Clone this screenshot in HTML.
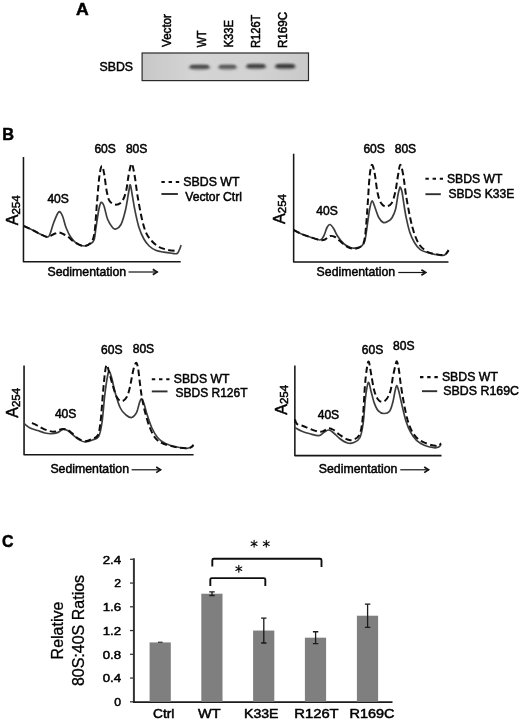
<!DOCTYPE html>
<html><head><meta charset="utf-8"><title>Figure</title>
<style>
html,body{margin:0;padding:0;background:#fff;}
body{width:520px;height:721px;overflow:hidden;font-family:"Liberation Sans",sans-serif;}
svg{display:block;font-family:"Liberation Sans",sans-serif;}
text{stroke:#000;stroke-width:0.5px;}
</style></head><body>
<svg width="520" height="721" viewBox="0 0 520 721">
<defs>
<linearGradient id="blotg" x1="0" y1="0" x2="1" y2="0">
<stop offset="0" stop-color="#c7c7c7"/><stop offset="0.3" stop-color="#d4d4d4"/><stop offset="0.7" stop-color="#d2d2d2"/><stop offset="1" stop-color="#c9c9c9"/>
</linearGradient>
<filter id="soft" x="0" y="0" width="520" height="721" filterUnits="userSpaceOnUse"><feGaussianBlur stdDeviation="0.45"/></filter>
<filter id="bblur2" x="-30%" y="-150%" width="160%" height="400%"><feGaussianBlur stdDeviation="1.3 0.85"/></filter>
<filter id="bblur" x="-30%" y="-80%" width="160%" height="260%"><feGaussianBlur stdDeviation="1.1 0.8"/></filter>
</defs>
<rect width="520" height="721" fill="#fff"/>
<g filter="url(#soft)" class="all">
<text x="76" y="14.9" font-size="17.3" font-weight="bold" fill="#000" textLength="12.7" lengthAdjust="spacingAndGlyphs">A</text>
<text x="99.5" y="71.4" font-size="12.5" fill="#000" textLength="33.5" lengthAdjust="spacingAndGlyphs">SBDS</text>
<rect x="142.1" y="53" width="166.4" height="27.6" fill="url(#blotg)" stroke="#2a2a2a" stroke-width="1.2"/>
<ellipse cx="199.5" cy="67.4" rx="11.5" ry="3.1" fill="#444" opacity="0.34" filter="url(#bblur)"/>
<rect x="190.0" y="65.0" width="19.0" height="3.6" rx="1.8" fill="#262626" opacity="0.74" filter="url(#bblur2)"/>
<ellipse cx="227.5" cy="67.4" rx="10.5" ry="3.1" fill="#444" opacity="0.29" filter="url(#bblur)"/>
<rect x="219.0" y="65.0" width="17.0" height="3.6" rx="1.8" fill="#262626" opacity="0.64" filter="url(#bblur2)"/>
<ellipse cx="256.0" cy="66.7" rx="11.2" ry="3.1" fill="#444" opacity="0.36" filter="url(#bblur)"/>
<rect x="246.8" y="64.3" width="18.5" height="3.6" rx="1.8" fill="#262626" opacity="0.78" filter="url(#bblur2)"/>
<ellipse cx="285.2" cy="66.7" rx="11.5" ry="3.1" fill="#444" opacity="0.38" filter="url(#bblur)"/>
<rect x="275.7" y="64.3" width="19.0" height="3.6" rx="1.8" fill="#262626" opacity="0.83" filter="url(#bblur2)"/>
<text transform="translate(171.4,46.9) rotate(-90)" font-size="12" fill="#000" textLength="32.8" lengthAdjust="spacingAndGlyphs">Vector</text>
<text transform="translate(205.6,47.2) rotate(-90)" font-size="12" fill="#000" textLength="16.8" lengthAdjust="spacingAndGlyphs">WT</text>
<text transform="translate(232.9,47.6) rotate(-90)" font-size="12" fill="#000" textLength="27.6" lengthAdjust="spacingAndGlyphs">K33E</text>
<text transform="translate(260.3,48.0) rotate(-90)" font-size="12" fill="#000" textLength="33.4" lengthAdjust="spacingAndGlyphs">R126T</text>
<text transform="translate(287.2,48.0) rotate(-90)" font-size="12" fill="#000" textLength="36.0" lengthAdjust="spacingAndGlyphs">R169C</text>
<text x="2.2" y="140.4" font-size="17.3" font-weight="bold" fill="#000" textLength="11.8" lengthAdjust="spacingAndGlyphs">B</text>
<path d="M23.45,157.10 L23.45,261.80 L180.70,261.80" fill="none" stroke="#141414" stroke-width="1.55" stroke-linejoin="round"/>
<path d="M23.75,226.00 C25.21,226.67 29.79,228.67 32.50,230.00 C35.21,231.33 37.50,232.83 40.00,234.00 C42.50,235.17 45.83,237.00 47.50,237.00 C49.17,237.00 48.96,236.42 50.00,234.00 C51.04,231.58 52.29,226.17 53.75,222.50 C55.21,218.83 57.29,213.08 58.75,212.00 C60.21,210.92 61.29,213.42 62.50,216.00 C63.71,218.58 64.58,223.92 66.00,227.50 C67.42,231.08 69.08,234.75 71.00,237.50 C72.92,240.25 75.33,242.58 77.50,244.00 C79.67,245.42 81.92,246.00 84.00,246.00 C86.08,246.00 88.33,245.00 90.00,244.00 C91.67,243.00 93.00,242.75 94.00,240.00 C95.00,237.25 95.21,232.50 96.00,227.50 C96.79,222.50 97.92,214.17 98.75,210.00 C99.58,205.83 100.12,203.17 101.00,202.50 C101.88,201.83 102.92,203.25 104.00,206.00 C105.08,208.75 106.08,215.42 107.50,219.00 C108.92,222.58 111.08,225.83 112.50,227.50 C113.92,229.17 114.58,229.50 116.00,229.00 C117.42,228.50 119.42,227.67 121.00,224.50 C122.58,221.33 124.22,215.42 125.50,210.00 C126.78,204.58 127.90,196.17 128.70,192.00 C129.50,187.83 129.63,184.05 130.30,185.00 C130.97,185.95 131.92,193.42 132.70,197.70 C133.48,201.98 133.97,205.78 135.00,210.70 C136.03,215.62 137.42,222.48 138.90,227.20 C140.38,231.92 142.18,235.87 143.90,239.00 C145.62,242.13 147.23,244.13 149.20,246.00 C151.17,247.87 153.25,249.17 155.70,250.20 C158.15,251.23 161.15,251.68 163.90,252.20 C166.65,252.72 170.03,253.07 172.20,253.30 C174.37,253.53 175.73,254.12 176.90,253.60 C178.07,253.08 178.48,251.62 179.20,250.20 C179.92,248.78 180.87,245.95 181.20,245.10" fill="none" stroke="#3e3e3e" stroke-width="1.7" stroke-linejoin="round"/>
<path d="M23.75,226.00 C25.21,226.67 29.79,228.67 32.50,230.00 C35.21,231.33 37.50,232.83 40.00,234.00 C42.50,235.17 45.17,237.00 47.50,237.00 C49.83,237.00 52.08,234.75 54.00,234.00 C55.92,233.25 57.33,232.42 59.00,232.50 C60.67,232.58 62.33,233.67 64.00,234.50 C65.67,235.33 67.17,236.17 69.00,237.50 C70.83,238.83 72.50,241.08 75.00,242.50 C77.50,243.92 81.33,246.00 84.00,246.00 C86.67,246.00 89.25,244.75 91.00,242.50 C92.75,240.25 93.50,239.17 94.50,232.50 C95.50,225.83 96.18,211.92 97.00,202.50 C97.82,193.08 98.59,182.08 99.40,176.00 C100.21,169.92 101.05,166.33 101.85,166.00 C102.65,165.67 103.42,170.00 104.20,174.00 C104.98,178.00 105.65,185.58 106.50,190.00 C107.35,194.42 107.88,198.07 109.30,200.50 C110.72,202.93 112.97,204.35 115.00,204.60 C117.03,204.85 119.68,204.10 121.50,202.00 C123.32,199.90 124.70,196.53 125.90,192.00 C127.10,187.47 127.75,179.50 128.70,174.80 C129.65,170.10 130.63,163.80 131.60,163.80 C132.57,163.80 133.53,169.60 134.50,174.80 C135.47,180.00 136.20,187.80 137.40,195.00 C138.60,202.20 140.27,211.75 141.70,218.00 C143.13,224.25 144.32,228.67 146.00,232.50 C147.68,236.33 149.63,238.58 151.80,241.00 C153.97,243.42 156.35,245.53 159.00,247.00 C161.65,248.47 164.82,249.13 167.70,249.80 C170.58,250.47 174.87,250.80 176.30,251.00" fill="none" stroke="#111" stroke-width="2.0" stroke-dasharray="6.4 3.4" stroke-linejoin="round"/>
<text x="47.4" y="202.8" font-size="12" fill="#000" textLength="21.5" lengthAdjust="spacingAndGlyphs">40S</text>
<text x="94.4" y="153.4" font-size="12" fill="#000" textLength="21.5" lengthAdjust="spacingAndGlyphs">60S</text>
<text x="125.9" y="153.4" font-size="12" fill="#000" textLength="21.5" lengthAdjust="spacingAndGlyphs">80S</text>
<text x="47.5" y="276.1" font-size="13" fill="#000" textLength="78.6" lengthAdjust="spacingAndGlyphs">Sedimentation</text>
<path d="M128.5,272.0 L157.6,272.0" stroke="#141414" stroke-width="1.2" fill="none"/>
<path d="M152.8,269.2 L157.1,272.0 L152.8,274.8" stroke="#141414" stroke-width="1.7" fill="none" stroke-linejoin="miter"/>
<text transform="translate(18.4,225.2) rotate(-90)" fill="#000"><tspan font-size="16">A</tspan><tspan font-size="11.5" dy="1.2">254</tspan></text>
<path d="M161.4,182.0 L179.2,182.0" stroke="#111" stroke-width="2.1" stroke-dasharray="3.4 3.8" fill="none"/>
<text x="183.3" y="185.7" font-size="12.5" fill="#000" textLength="56.2" lengthAdjust="spacingAndGlyphs">SBDS WT</text>
<path d="M161.4,194.0 L177.9,194.0" stroke="#2e2e2e" stroke-width="1.9" fill="none"/>
<text x="185.2" y="200.6" font-size="12.5" fill="#000" textLength="56.8" lengthAdjust="spacingAndGlyphs">Vector Ctrl</text>
<path d="M293.65,153.75 L293.65,262.00 L448.50,262.00" fill="none" stroke="#141414" stroke-width="1.55" stroke-linejoin="round"/>
<path d="M293.75,230.00 C294.96,230.62 298.29,232.58 301.00,233.75 C303.71,234.92 306.83,235.96 310.00,237.00 C313.17,238.04 317.71,240.17 320.00,240.00 C322.29,239.83 322.58,238.08 323.75,236.00 C324.92,233.92 325.96,229.42 327.00,227.50 C328.04,225.58 328.88,224.29 330.00,224.50 C331.12,224.71 332.50,226.83 333.75,228.75 C335.00,230.67 335.83,233.50 337.50,236.00 C339.17,238.50 341.50,241.78 343.75,243.75 C346.00,245.72 348.88,247.12 351.00,247.80 C353.12,248.48 354.70,248.13 356.50,247.80 C358.30,247.47 360.40,247.03 361.80,245.80 C363.20,244.57 364.05,243.37 364.90,240.40 C365.75,237.43 366.13,233.07 366.90,228.00 C367.67,222.93 368.65,214.50 369.50,210.00 C370.35,205.50 371.08,201.42 372.00,201.00 C372.92,200.58 373.88,204.75 375.00,207.50 C376.12,210.25 377.33,214.98 378.75,217.50 C380.17,220.02 381.88,222.02 383.50,222.60 C385.12,223.18 387.08,221.82 388.50,221.00 C389.92,220.18 390.83,219.62 392.00,217.70 C393.17,215.78 394.52,213.23 395.50,209.50 C396.48,205.77 397.27,198.65 397.90,195.30 C398.53,191.95 398.91,190.77 399.30,189.40 C399.69,188.03 399.80,186.70 400.25,187.10 C400.70,187.50 401.41,189.05 402.00,191.80 C402.59,194.55 403.10,199.28 403.80,203.60 C404.50,207.92 405.22,212.98 406.20,217.70 C407.18,222.42 408.33,227.77 409.70,231.90 C411.07,236.03 412.63,239.55 414.40,242.50 C416.17,245.45 418.13,247.93 420.30,249.60 C422.47,251.27 425.03,251.72 427.40,252.50 C429.77,253.28 431.95,253.80 434.50,254.30 C437.05,254.80 440.75,255.60 442.70,255.50 C444.65,255.40 445.22,254.58 446.20,253.70 C447.18,252.82 448.20,250.78 448.60,250.20" fill="none" stroke="#3e3e3e" stroke-width="1.7" stroke-linejoin="round"/>
<path d="M293.75,230.00 C294.96,230.62 298.29,232.58 301.00,233.75 C303.71,234.92 306.83,235.96 310.00,237.00 C313.17,238.04 317.50,239.58 320.00,240.00 C322.50,240.42 323.33,240.17 325.00,239.50 C326.67,238.83 328.33,236.42 330.00,236.00 C331.67,235.58 333.33,236.17 335.00,237.00 C336.67,237.83 338.17,239.50 340.00,241.00 C341.83,242.50 343.71,244.71 346.00,246.00 C348.29,247.29 351.20,248.70 353.75,248.75 C356.30,248.80 359.46,248.09 361.30,246.30 C363.14,244.51 363.80,244.05 364.80,238.00 C365.80,231.95 366.52,220.08 367.30,210.00 C368.08,199.92 368.76,185.00 369.50,177.50 C370.24,170.00 370.92,165.83 371.75,165.00 C372.58,164.17 373.54,167.92 374.50,172.50 C375.46,177.08 376.42,187.42 377.50,192.50 C378.58,197.58 379.60,200.67 381.00,203.00 C382.40,205.33 384.13,206.47 385.90,206.50 C387.67,206.53 390.03,205.62 391.60,203.20 C393.17,200.78 394.22,196.73 395.30,192.00 C396.38,187.27 397.27,179.35 398.10,174.80 C398.93,170.25 399.45,164.70 400.30,164.70 C401.15,164.70 402.25,169.75 403.20,174.80 C404.15,179.85 404.83,187.80 406.00,195.00 C407.17,202.20 408.82,211.58 410.20,218.00 C411.58,224.42 412.73,229.00 414.30,233.50 C415.87,238.00 417.42,241.95 419.60,245.00 C421.78,248.05 424.92,250.33 427.40,251.80 C429.88,253.27 431.95,253.27 434.50,253.80 C437.05,254.33 440.75,255.05 442.70,255.00 C444.65,254.95 445.22,254.30 446.20,253.50 C447.18,252.70 448.20,250.75 448.60,250.20" fill="none" stroke="#111" stroke-width="2.0" stroke-dasharray="6.4 3.4" stroke-linejoin="round"/>
<text x="316.3" y="215.2" font-size="12" fill="#000" textLength="21.5" lengthAdjust="spacingAndGlyphs">40S</text>
<text x="363.4" y="152.9" font-size="12" fill="#000" textLength="21.5" lengthAdjust="spacingAndGlyphs">60S</text>
<text x="394.7" y="153.4" font-size="12" fill="#000" textLength="21.5" lengthAdjust="spacingAndGlyphs">80S</text>
<text x="316.6" y="276.1" font-size="13" fill="#000" textLength="78.6" lengthAdjust="spacingAndGlyphs">Sedimentation</text>
<path d="M398.3,272.5 L426.2,272.5" stroke="#141414" stroke-width="1.2" fill="none"/>
<path d="M421.4,269.7 L425.7,272.5 L421.4,275.3" stroke="#141414" stroke-width="1.7" fill="none" stroke-linejoin="miter"/>
<text transform="translate(284.7,223.9) rotate(-90)" fill="#000"><tspan font-size="16">A</tspan><tspan font-size="11.5" dy="1.2">254</tspan></text>
<path d="M425.4,178.8 L443.0,178.8" stroke="#111" stroke-width="2.1" stroke-dasharray="3.4 3.8" fill="none"/>
<text x="447.0" y="182.6" font-size="12.5" fill="#000" textLength="55.5" lengthAdjust="spacingAndGlyphs">SBDS WT</text>
<path d="M425.4,194.2 L440.8,194.2" stroke="#2e2e2e" stroke-width="1.9" fill="none"/>
<text x="448.5" y="197.8" font-size="12.5" fill="#000" textLength="65.7" lengthAdjust="spacingAndGlyphs">SBDS K33E</text>
<path d="M24.05,365.50 L24.05,454.70 L193.60,454.70" fill="none" stroke="#141414" stroke-width="1.55" stroke-linejoin="round"/>
<path d="M24.25,423.75 C25.21,424.46 27.79,426.88 30.00,428.00 C32.21,429.12 35.00,429.67 37.50,430.50 C40.00,431.33 42.71,432.46 45.00,433.00 C47.29,433.54 49.17,433.82 51.25,433.75 C53.33,433.68 55.59,433.33 57.50,432.60 C59.41,431.88 61.03,429.77 62.70,429.40 C64.37,429.03 65.87,429.55 67.50,430.40 C69.13,431.25 70.62,432.98 72.50,434.50 C74.38,436.02 76.67,438.25 78.75,439.50 C80.83,440.75 82.71,441.92 85.00,442.00 C87.29,442.08 90.21,440.96 92.50,440.00 C94.79,439.04 97.17,439.17 98.75,436.25 C100.33,433.33 100.99,429.38 102.00,422.50 C103.01,415.62 103.88,402.71 104.80,395.00 C105.72,387.29 106.75,380.21 107.50,376.25 C108.25,372.29 108.57,370.83 109.30,371.25 C110.03,371.67 110.95,375.29 111.90,378.75 C112.85,382.21 113.60,387.12 115.00,392.00 C116.40,396.88 118.47,404.17 120.30,408.00 C122.13,411.83 124.10,413.42 126.00,415.00 C127.90,416.58 129.95,417.88 131.70,417.50 C133.45,417.12 135.22,415.12 136.50,412.70 C137.78,410.28 138.60,405.32 139.40,403.00 C140.20,400.68 140.57,398.80 141.30,398.80 C142.03,398.80 142.83,400.37 143.80,403.00 C144.77,405.63 145.75,410.43 147.10,414.60 C148.45,418.77 150.13,424.15 151.90,428.00 C153.67,431.85 155.45,435.12 157.70,437.70 C159.95,440.28 162.20,441.95 165.40,443.50 C168.60,445.05 173.38,446.20 176.90,447.00 C180.42,447.80 184.15,448.25 186.50,448.30 C188.85,448.35 189.83,447.85 191.00,447.30 C192.17,446.75 193.08,445.38 193.50,445.00" fill="none" stroke="#3e3e3e" stroke-width="1.7" stroke-linejoin="round"/>
<path d="M32.00,423.00 C32.67,423.30 34.67,424.13 36.00,424.80 C37.33,425.47 38.08,426.05 40.00,427.00 C41.92,427.95 45.00,429.73 47.50,430.50 C50.00,431.27 52.71,431.82 55.00,431.60 C57.29,431.38 59.38,429.57 61.25,429.20 C63.12,428.83 64.58,428.85 66.25,429.40 C67.92,429.95 69.38,431.07 71.25,432.50 C73.12,433.93 75.21,436.54 77.50,438.00 C79.79,439.46 82.50,441.12 85.00,441.25 C87.50,441.38 90.33,439.79 92.50,438.75 C94.67,437.71 96.62,438.12 98.00,435.00 C99.38,431.88 99.92,427.08 100.75,420.00 C101.58,412.92 102.29,400.42 103.00,392.50 C103.71,384.58 104.38,377.08 105.00,372.50 C105.62,367.92 106.04,365.00 106.75,365.00 C107.46,365.00 108.22,369.00 109.25,372.50 C110.28,376.00 111.58,381.78 112.90,386.00 C114.23,390.22 115.67,395.27 117.20,397.80 C118.73,400.33 120.48,401.37 122.10,401.20 C123.72,401.03 125.62,399.05 126.90,396.80 C128.18,394.55 129.00,390.83 129.80,387.70 C130.60,384.57 131.05,381.20 131.70,378.00 C132.35,374.80 132.95,371.05 133.70,368.50 C134.45,365.95 135.47,362.70 136.20,362.70 C136.93,362.70 137.47,364.98 138.10,368.50 C138.73,372.02 139.37,379.00 140.00,383.80 C140.63,388.60 141.03,392.48 141.90,397.30 C142.77,402.12 143.85,407.58 145.20,412.70 C146.55,417.82 148.23,423.67 150.00,428.00 C151.77,432.33 153.55,436.07 155.80,438.70 C158.05,441.33 159.98,442.37 163.50,443.80 C167.02,445.23 173.07,446.55 176.90,447.30 C180.73,448.05 184.15,448.30 186.50,448.30 C188.85,448.30 189.83,447.85 191.00,447.30 C192.17,446.75 193.08,445.38 193.50,445.00" fill="none" stroke="#111" stroke-width="2.0" stroke-dasharray="6.4 3.4" stroke-linejoin="round"/>
<text x="54.9" y="417.6" font-size="12" fill="#000" textLength="21.5" lengthAdjust="spacingAndGlyphs">40S</text>
<text x="101.1" y="353.9" font-size="12" fill="#000" textLength="21.5" lengthAdjust="spacingAndGlyphs">60S</text>
<text x="132.7" y="353.4" font-size="12" fill="#000" textLength="21.5" lengthAdjust="spacingAndGlyphs">80S</text>
<text x="50.4" y="472.6" font-size="13" fill="#000" textLength="78.6" lengthAdjust="spacingAndGlyphs">Sedimentation</text>
<path d="M131.6,469.8 L161.0,469.8" stroke="#141414" stroke-width="1.2" fill="none"/>
<path d="M156.2,467.0 L160.5,469.8 L156.2,472.6" stroke="#141414" stroke-width="1.7" fill="none" stroke-linejoin="miter"/>
<text transform="translate(18.4,417.7) rotate(-90)" fill="#000"><tspan font-size="16">A</tspan><tspan font-size="11.5" dy="1.2">254</tspan></text>
<path d="M151.8,379.3 L169.5,379.3" stroke="#111" stroke-width="2.1" stroke-dasharray="3.4 3.8" fill="none"/>
<text x="173.8" y="383.0" font-size="12.5" fill="#000" textLength="55.6" lengthAdjust="spacingAndGlyphs">SBDS WT</text>
<path d="M151.8,391.4 L167.5,391.4" stroke="#2e2e2e" stroke-width="1.9" fill="none"/>
<text x="175.5" y="397.1" font-size="12.5" fill="#000" textLength="72.0" lengthAdjust="spacingAndGlyphs">SBDS R126T</text>
<path d="M294.85,365.60 L294.85,455.60 L441.50,455.60" fill="none" stroke="#141414" stroke-width="1.55" stroke-linejoin="round"/>
<path d="M295.00,427.70 C296.04,428.25 298.75,429.98 301.25,431.00 C303.75,432.02 307.08,433.03 310.00,433.80 C312.92,434.57 316.46,435.82 318.75,435.60 C321.04,435.38 322.08,433.43 323.75,432.50 C325.42,431.57 327.08,429.92 328.75,430.00 C330.42,430.08 331.88,431.54 333.75,433.00 C335.62,434.46 337.71,437.08 340.00,438.75 C342.29,440.42 345.21,442.38 347.50,443.00 C349.79,443.62 351.67,443.42 353.75,442.50 C355.83,441.58 358.42,440.83 360.00,437.50 C361.58,434.17 362.33,429.17 363.25,422.50 C364.17,415.83 364.66,404.17 365.50,397.50 C366.34,390.83 367.33,383.37 368.30,382.50 C369.27,381.63 370.32,388.90 371.30,392.30 C372.28,395.70 373.07,399.85 374.20,402.90 C375.33,405.95 376.50,408.83 378.10,410.60 C379.70,412.37 381.88,413.40 383.80,413.50 C385.72,413.60 388.08,413.13 389.60,411.20 C391.12,409.27 392.03,405.05 392.90,401.90 C393.77,398.75 394.17,395.02 394.80,392.30 C395.43,389.58 396.03,385.77 396.70,385.60 C397.37,385.43 397.90,387.93 398.80,391.30 C399.70,394.67 400.90,400.82 402.10,405.80 C403.30,410.78 404.55,416.72 406.00,421.20 C407.45,425.68 409.05,429.50 410.80,432.70 C412.55,435.90 414.27,438.32 416.50,440.40 C418.73,442.48 421.32,443.98 424.20,445.20 C427.08,446.42 431.38,447.38 433.80,447.70 C436.22,448.02 437.50,447.68 438.70,447.10 C439.90,446.52 440.62,444.68 441.00,444.20" fill="none" stroke="#3e3e3e" stroke-width="1.7" stroke-linejoin="round"/>
<path d="M295.00,419.50 C295.33,420.25 295.67,422.92 297.00,424.00 C298.33,425.08 300.67,425.12 303.00,426.00 C305.33,426.88 308.25,428.33 311.00,429.30 C313.75,430.27 317.33,431.55 319.50,431.80 C321.67,432.05 322.53,431.40 324.00,430.80 C325.47,430.20 326.68,428.33 328.30,428.20 C329.93,428.07 331.80,428.87 333.75,430.00 C335.70,431.13 337.71,433.42 340.00,435.00 C342.29,436.58 345.21,438.75 347.50,439.50 C349.79,440.25 351.67,440.46 353.75,439.50 C355.83,438.54 358.46,437.83 360.00,433.75 C361.54,429.67 362.17,423.12 363.00,415.00 C363.83,406.88 364.33,392.92 365.00,385.00 C365.67,377.08 366.37,371.37 367.00,367.50 C367.63,363.63 368.08,360.55 368.80,361.80 C369.52,363.05 370.40,370.23 371.30,375.00 C372.20,379.77 373.13,386.40 374.20,390.40 C375.27,394.40 376.42,397.08 377.70,399.00 C378.98,400.92 380.40,401.90 381.90,401.90 C383.40,401.90 385.25,400.92 386.70,399.00 C388.15,397.08 389.57,394.08 390.60,390.40 C391.63,386.72 392.10,381.07 392.90,376.90 C393.70,372.73 394.73,367.97 395.40,365.40 C396.07,362.83 396.33,360.87 396.90,361.50 C397.47,362.13 398.15,365.35 398.80,369.20 C399.45,373.05 399.93,378.83 400.80,384.60 C401.67,390.37 402.82,397.70 404.00,403.80 C405.18,409.90 406.45,416.38 407.90,421.20 C409.35,426.02 410.93,429.67 412.70,432.70 C414.47,435.73 416.25,437.63 418.50,439.40 C420.75,441.17 423.65,442.27 426.20,443.30 C428.75,444.33 431.72,445.22 433.80,445.60 C435.88,445.98 437.50,445.98 438.70,445.60 C439.90,445.22 440.62,443.68 441.00,443.30" fill="none" stroke="#111" stroke-width="2.0" stroke-dasharray="6.4 3.4" stroke-linejoin="round"/>
<text x="317.7" y="418.9" font-size="12" fill="#000" textLength="21.5" lengthAdjust="spacingAndGlyphs">40S</text>
<text x="361.8" y="354.3" font-size="12" fill="#000" textLength="21.5" lengthAdjust="spacingAndGlyphs">60S</text>
<text x="393.0" y="350.4" font-size="12" fill="#000" textLength="21.5" lengthAdjust="spacingAndGlyphs">80S</text>
<text x="318.8" y="472.6" font-size="13" fill="#000" textLength="78.6" lengthAdjust="spacingAndGlyphs">Sedimentation</text>
<path d="M400.3,469.8 L429.0,469.8" stroke="#141414" stroke-width="1.2" fill="none"/>
<path d="M424.2,467.0 L428.5,469.8 L424.2,472.6" stroke="#141414" stroke-width="1.7" fill="none" stroke-linejoin="miter"/>
<text transform="translate(287.0,414.7) rotate(-90)" fill="#000"><tspan font-size="16">A</tspan><tspan font-size="11.5" dy="1.2">254</tspan></text>
<path d="M420.0,377.1 L438.0,377.1" stroke="#111" stroke-width="2.1" stroke-dasharray="3.4 3.8" fill="none"/>
<text x="441.9" y="380.6" font-size="12.5" fill="#000" textLength="56.0" lengthAdjust="spacingAndGlyphs">SBDS WT</text>
<path d="M422.0,391.2 L437.2,391.2" stroke="#2e2e2e" stroke-width="1.9" fill="none"/>
<text x="443.3" y="395.4" font-size="12.5" fill="#000" textLength="75.7" lengthAdjust="spacingAndGlyphs">SBDS R169C</text>
<text x="1.9" y="546.6" font-size="17.3" font-weight="bold" fill="#000" textLength="11.5" lengthAdjust="spacingAndGlyphs">C</text>
<path d="M130,701.80 L133.8,701.80" stroke="#333" stroke-width="1.25"/>
<text x="114.3" y="706.1" font-size="11.8" fill="#000" textLength="6.8" lengthAdjust="spacingAndGlyphs">0</text>
<path d="M130,678.05 L133.8,678.05" stroke="#333" stroke-width="1.25"/>
<text x="102.7" y="682.3" font-size="11.8" fill="#000" textLength="18.4" lengthAdjust="spacingAndGlyphs">0.4</text>
<path d="M130,654.30 L133.8,654.30" stroke="#333" stroke-width="1.25"/>
<text x="102.7" y="658.6" font-size="11.8" fill="#000" textLength="18.4" lengthAdjust="spacingAndGlyphs">0.8</text>
<path d="M130,630.55 L133.8,630.55" stroke="#333" stroke-width="1.25"/>
<text x="102.7" y="634.8" font-size="11.8" fill="#000" textLength="18.4" lengthAdjust="spacingAndGlyphs">1.2</text>
<path d="M130,606.80 L133.8,606.80" stroke="#333" stroke-width="1.25"/>
<text x="102.7" y="611.1" font-size="11.8" fill="#000" textLength="18.4" lengthAdjust="spacingAndGlyphs">1.6</text>
<path d="M130,583.05 L133.8,583.05" stroke="#333" stroke-width="1.25"/>
<text x="114.3" y="587.3" font-size="11.8" fill="#000" textLength="6.8" lengthAdjust="spacingAndGlyphs">2</text>
<path d="M130,559.30 L133.8,559.30" stroke="#333" stroke-width="1.25"/>
<text x="102.7" y="563.6" font-size="11.8" fill="#000" textLength="18.4" lengthAdjust="spacingAndGlyphs">2.4</text>
<path d="M133.9,558.3 L133.9,702.70" fill="none" stroke="#333" stroke-width="2"/>
<path d="M133,702.10 L392.5,702.10" fill="none" stroke="#1c1c1c" stroke-width="1.7"/>
<rect x="149.60" y="642.42" width="21.2" height="59.38" fill="#7f7f7f"/>
<path d="M158.00,642.22 L162.60,642.22" stroke="#222" stroke-width="1.1" fill="none"/>
<rect x="201.30" y="593.74" width="21.2" height="108.06" fill="#7f7f7f"/>
<path d="M212.00,591.96 L212.00,595.52 M209.30,591.96 L214.70,591.96 M209.30,595.52 L214.70,595.52" stroke="#1a1a1a" stroke-width="1.3" fill="none"/>
<rect x="253.10" y="630.55" width="21.2" height="71.25" fill="#7f7f7f"/>
<path d="M263.80,618.08 L263.80,643.02 M261.10,618.08 L266.50,618.08 M261.10,643.02 L266.50,643.02" stroke="#1a1a1a" stroke-width="1.3" fill="none"/>
<rect x="304.90" y="637.67" width="21.2" height="64.12" fill="#7f7f7f"/>
<path d="M315.60,631.74 L315.60,643.61 M312.90,631.74 L318.30,631.74 M312.90,643.61 L318.30,643.61" stroke="#1a1a1a" stroke-width="1.3" fill="none"/>
<rect x="356.90" y="615.71" width="21.2" height="86.09" fill="#7f7f7f"/>
<path d="M367.60,604.13 L367.60,627.28 M364.90,604.13 L370.30,604.13 M364.90,627.28 L370.30,627.28" stroke="#1a1a1a" stroke-width="1.3" fill="none"/>
<text x="153.0" y="718" font-size="13" fill="#000" textLength="21.4" lengthAdjust="spacingAndGlyphs">Ctrl</text>
<text x="198.0" y="718" font-size="13" fill="#000" textLength="22.5" lengthAdjust="spacingAndGlyphs">WT</text>
<text x="244.0" y="718" font-size="13" fill="#000" textLength="34.5" lengthAdjust="spacingAndGlyphs">K33E</text>
<text x="294.2" y="718" font-size="13" fill="#000" textLength="44.5" lengthAdjust="spacingAndGlyphs">R126T</text>
<text x="349.5" y="718" font-size="13" fill="#000" textLength="45.0" lengthAdjust="spacingAndGlyphs">R169C</text>
<text transform="translate(63.3,630.5) rotate(-90)" font-size="16" style="stroke-width:0.3px" text-anchor="middle" fill="#000">Relative</text>
<text transform="translate(84.2,630.5) rotate(-90)" font-size="16" style="stroke-width:0.3px" text-anchor="middle" fill="#000">80S:40S Ratios</text>
<path d="M210.3,586 L210.3,579.6 Q210.3,578.1 211.8,578.1 L263.8,578.1 Q265.3,578.1 265.3,579.6 L265.3,586" fill="none" stroke="#111" stroke-width="1.9"/>
<path d="M212.3,566.5 L212.3,560.2 Q212.3,558.7 213.8,558.7 L320,558.7 Q321.5,558.7 321.5,560.2 L321.5,567" fill="none" stroke="#111" stroke-width="1.9"/>
<path d="M238.80,565.40 L238.80,572.20 M235.86,567.10 L241.74,570.50 M241.74,567.10 L235.86,570.50 " stroke="#111" stroke-width="1.15" fill="none" stroke-linecap="round"/>
<path d="M254.10,540.30 L254.10,547.10 M251.16,542.00 L257.04,545.40 M257.04,542.00 L251.16,545.40 " stroke="#111" stroke-width="1.15" fill="none" stroke-linecap="round"/>
<path d="M266.30,540.30 L266.30,547.10 M263.36,542.00 L269.24,545.40 M269.24,542.00 L263.36,545.40 " stroke="#111" stroke-width="1.15" fill="none" stroke-linecap="round"/>
</g>
</svg>
</body></html>
